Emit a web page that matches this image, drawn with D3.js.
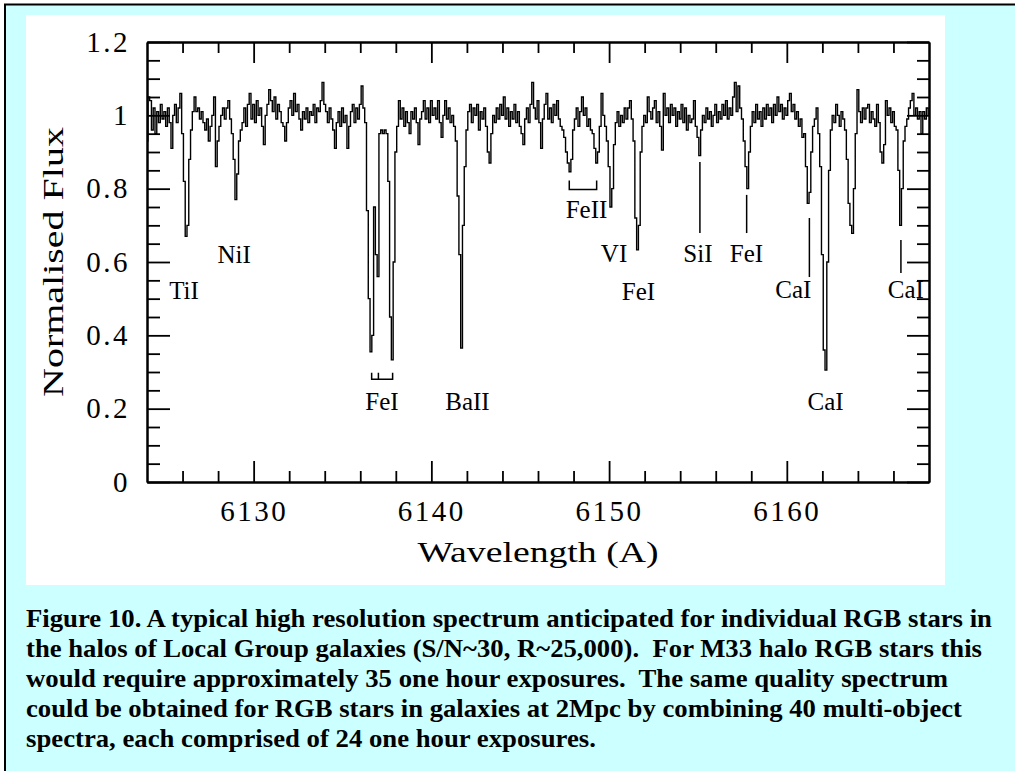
<!DOCTYPE html>
<html>
<head>
<meta charset="utf-8">
<script src="https://cdn.jsdelivr.net/npm/d3@7"></script>
<style>
  html, body { margin: 0; padding: 0; background: #fff; }
  #chart { width: 1015px; height: 771px; overflow: hidden; }
  text { font-family: "Liberation Serif", "Times New Roman", serif; }
</style>
</head>
<body>
<div id="chart"></div>
<script>
// normalised flux, one value every 0.1 A from 6124.0 A
const waveStart = 6124.0;
const waveStep = 0.1;
const flux = [
  0.93, 1.05, 1.04, 0.96, 1.02, 0.95, 1.01, 0.98, 1.03, 0.99,
  1.01, 0.97, 1.02, 0.98, 0.91, 1.00, 1.03, 0.98, 1.02, 1.06,
  0.95, 0.82, 0.67, 0.70, 0.88, 0.96, 1.01, 1.05, 1.01, 1.02,
  0.99, 1.01, 0.98, 0.96, 0.99, 0.93, 0.97, 1.00, 1.05, 0.86,
  0.93, 0.97, 1.00, 1.02, 0.99, 1.02, 1.04, 0.99, 0.95, 0.88,
  0.77, 0.84, 0.93, 0.96, 0.98, 1.02, 0.97, 1.03, 1.06, 0.99,
  1.03, 0.98, 1.04, 1.00, 1.02, 0.97, 0.92, 1.00, 1.03, 1.07,
  1.04, 1.01, 1.05, 0.99, 1.03, 1.01, 0.98, 0.97, 0.93, 0.98,
  1.02, 1.04, 1.00, 1.06, 1.01, 1.03, 0.99, 0.96, 1.01, 0.99,
  1.02, 0.98, 1.01, 1.00, 1.03, 0.98, 1.02, 1.01, 1.04, 1.09,
  1.03, 1.01, 0.98, 1.02, 0.99, 0.96, 0.91, 0.98, 1.01, 0.97,
  1.02, 0.98, 1.00, 0.91, 0.97, 1.01, 1.03, 0.98, 1.02, 0.99,
  1.03, 1.08, 1.02, 0.98, 0.74, 0.50, 0.355, 0.40, 0.75, 0.62,
  0.56, 0.95, 0.96, 0.95, 0.96, 0.95, 0.82, 0.45, 0.333, 0.60,
  0.90, 0.97, 1.04, 0.99, 1.02, 0.97, 1.01, 0.98, 0.95, 1.01,
  0.99, 1.02, 0.98, 0.92, 0.99, 1.01, 1.04, 0.99, 1.02, 0.98,
  1.04, 1.00, 1.02, 0.99, 1.04, 0.98, 0.94, 1.00, 1.04, 0.99,
  1.02, 0.98, 1.00, 0.97, 0.93, 0.78, 0.62, 0.365, 0.70, 0.86,
  0.96, 1.01, 1.03, 0.98, 1.02, 1.00, 1.03, 0.96, 1.01, 0.99,
  1.02, 0.97, 0.90, 0.87, 0.95, 1.00, 0.98, 1.02, 0.99, 1.03,
  1.00, 1.05, 0.99, 1.02, 0.97, 1.01, 0.99, 1.03, 0.98, 1.01,
  0.97, 0.95, 0.92, 0.99, 1.02, 0.98, 1.03, 1.09, 1.02, 0.99,
  1.04, 0.98, 0.91, 0.99, 1.03, 1.06, 0.99, 1.02, 0.98, 1.03,
  1.00, 1.04, 0.99, 0.97, 0.96, 0.94, 0.90, 0.87, 0.846, 0.88,
  0.96, 0.99, 1.02, 0.97, 1.01, 1.05, 1.00, 1.02, 0.97, 0.99,
  0.96, 0.95, 0.91, 0.87, 0.90, 0.97, 1.06, 1.00, 0.97, 0.93,
  0.86, 0.75, 0.80, 0.92, 0.98, 1.01, 0.97, 1.00, 0.98, 1.02,
  0.99, 1.02, 1.04, 0.99, 0.93, 0.72, 0.633, 0.70, 0.90, 0.97,
  1.00, 0.98, 1.05, 1.01, 0.99, 1.02, 1.04, 0.98, 1.01, 0.97,
  0.905, 1.06, 1.00, 1.02, 0.98, 1.03, 1.00, 1.02, 0.97, 1.01,
  0.99, 1.03, 0.98, 1.02, 0.96, 1.00, 0.98, 0.99, 1.04, 0.97,
  0.94, 0.89, 0.96, 1.00, 0.98, 1.02, 0.99, 1.01, 0.97, 1.00,
  1.03, 0.98, 1.01, 0.99, 1.03, 1.00, 1.04, 0.99, 1.02, 1.00,
  1.05, 1.09, 1.01, 1.08, 1.02, 0.99, 0.93, 0.86, 0.80, 0.90,
  0.97, 1.01, 0.98, 1.03, 0.99, 1.01, 0.97, 1.02, 0.99, 1.03,
  1.00, 1.02, 0.98, 1.03, 1.00, 1.05, 1.01, 1.03, 0.99, 1.02,
  1.00, 1.04, 1.06, 1.01, 1.03, 0.99, 1.01, 0.97, 0.99, 0.94,
  0.95, 0.86, 0.76, 0.79, 0.90, 0.97, 0.99, 1.02, 0.95, 0.86,
  0.62, 0.36, 0.305, 0.60, 0.85, 0.96, 1.00, 0.98, 1.03, 1.00,
  0.97, 1.01, 0.99, 0.96, 0.88, 0.76, 0.70, 0.678, 0.80, 0.95,
  1.07, 1.01, 0.98, 1.02, 0.99, 1.02, 1.03, 0.98, 1.01, 0.99,
  0.97, 1.03, 0.98, 0.90, 0.87, 0.92, 1.04, 1.00, 1.02, 0.98,
  1.01, 0.97, 0.96, 0.85, 0.70, 0.80, 0.93, 0.97, 0.99, 1.02,
  1.04, 1.06, 1.00, 1.02, 0.99, 1.01, 0.95, 1.01, 0.99, 1.02,
  1.00
];

const xMajorTicks = [6130, 6140, 6150, 6160];
const xMinorTicks = [6126, 6128, 6132, 6134, 6136, 6138, 6142, 6144, 6146, 6148,
                     6152, 6154, 6156, 6158, 6162, 6164, 6166];
const yMajorTicks = [0, 0.2, 0.4, 0.6, 0.8, 1, 1.2];
const yMinorTicks = [0.05, 0.1, 0.15, 0.25, 0.3, 0.35, 0.45, 0.5, 0.55, 0.65, 0.7, 0.75,
                     0.85, 0.9, 0.95, 1.05, 1.1, 1.15];

// line identifications (label centre wavelength, label baseline flux)
const lineNames = ["TiI", "NiI", "FeI", "BaII", "FeII", "VI", "FeI", "SiI", "FeI", "CaI", "CaI", "CaI"];
const lineLabelWave = [6126.08, 6128.9, 6137.22, 6142.03, 6148.73, 6150.28, 6151.65, 6155.0, 6157.73, 6160.37, 6162.18, 6166.7];
const lineLabelFlux = [0.499, 0.597, 0.196, 0.196, 0.72, 0.6, 0.496, 0.6, 0.6, 0.502, 0.196, 0.502];

// tick marks below lines
const markerWave = [6155.11, 6157.74, 6161.27, 6166.42];
const markerTop = [0.873, 0.783, 0.72, 0.66];
const markerBottom = [0.679, 0.679, 0.559, 0.57];

// brackets joining blended pairs
const bracketStart = [6136.64, 6147.76];
const bracketEnd = [6137.82, 6149.30];
const bracketTop = [0.298, 0.822];
const bracketBottom = [0.28, 0.798];
const bracketMid = [6137.02, null];

const captionLines = [
  "Figure 10. A typical high resolution spectrum anticipated for individual RGB stars in",
  "the halos of Local Group galaxies (S/N~30, R~25,000).  For M33 halo RGB stars this",
  "would require approximately 35 one hour exposures.  The same quality spectrum",
  "could be obtained for RGB stars in galaxies at 2Mpc by combining 40 multi-object",
  "spectra, each comprised of 24 one hour exposures."
];
const captionWidths = [966, 956, 922, 936, null];

const width = 1015;
const height = 771;
const plot = { left: 147, top: 42, right: 929, bottom: 482 };

const svg = d3.select("#chart")
    .append("svg")
    .attr("width", width)
    .attr("height", height);

// page background: cyan box with black frame, white figure panel
svg.append("rect")
    .attr("x", 5).attr("y", 4.5)
    .attr("width", 1200).attr("height", 900)
    .attr("fill", "#ccffff")
    .attr("stroke", "#000")
    .attr("stroke-width", 2);

svg.append("rect")
    .attr("x", 26).attr("y", 15)
    .attr("width", 919).attr("height", 570)
    .attr("fill", "#fff");

const xScale = d3.scaleLinear()
    .domain([6124, 6168])
    .range([plot.left, plot.right]);

const yScale = d3.scaleLinear()
    .domain([0, 1.2])
    .range([plot.bottom, plot.top]);

function styleAxis(g) {
    g.select(".domain").attr("stroke-width", 2).attr("stroke", "#000");
    g.selectAll(".tick line").attr("stroke-width", 1.8).attr("stroke", "#000");
}

// minor ticks on all four sides
svg.append("g").attr("transform", `translate(0, ${plot.bottom})`)
    .call(d3.axisBottom(xScale).tickValues(xMinorTicks).tickSize(-11).tickSizeOuter(0).tickFormat(""))
    .call(styleAxis);
svg.append("g").attr("transform", `translate(0, ${plot.top})`)
    .call(d3.axisTop(xScale).tickValues(xMinorTicks).tickSize(-11).tickSizeOuter(0).tickFormat(""))
    .call(styleAxis);
svg.append("g").attr("transform", `translate(${plot.left}, 0)`)
    .call(d3.axisLeft(yScale).tickValues(yMinorTicks).tickSize(-13).tickSizeOuter(0).tickFormat(""))
    .call(styleAxis);
svg.append("g").attr("transform", `translate(${plot.right}, 0)`)
    .call(d3.axisRight(yScale).tickValues(yMinorTicks).tickSize(-12).tickSizeOuter(0).tickFormat(""))
    .call(styleAxis);

// major ticks
const xAxis = svg.append("g").attr("transform", `translate(0, ${plot.bottom})`)
    .call(d3.axisBottom(xScale).tickValues(xMajorTicks).tickSize(-21).tickSizeOuter(0).tickFormat(d3.format("d")))
    .call(styleAxis);
xAxis.selectAll("text")
    .attr("y", 39).attr("dy", 0)
    .attr("font-size", 29)
    .attr("letter-spacing", 2.5)
    .attr("font-family", "Liberation Serif")
    .attr("fill", "#000");

svg.append("g").attr("transform", `translate(0, ${plot.top})`)
    .call(d3.axisTop(xScale).tickValues(xMajorTicks).tickSize(-21).tickSizeOuter(0).tickFormat(""))
    .call(styleAxis);

const yAxis = svg.append("g").attr("transform", `translate(${plot.left}, 0)`)
    .call(d3.axisLeft(yScale).tickValues(yMajorTicks).tickSize(-23).tickPadding(17)
        .tickSizeOuter(0).tickFormat((d, i) => ["0", "0.2", "0.4", "0.6", "0.8", "1", "1.2"][i]))
    .call(styleAxis);
yAxis.selectAll("text")
    .attr("font-size", 29)
    .attr("letter-spacing", 2.5)
    .attr("font-family", "Liberation Serif")
    .attr("fill", "#000");

svg.append("g").attr("transform", `translate(${plot.right}, 0)`)
    .call(d3.axisRight(yScale).tickValues(yMajorTicks).tickSize(-22).tickSizeOuter(0).tickFormat(""))
    .call(styleAxis);

// spectrum, drawn as a histogram
const line = d3.line()
    .x((d, i) => xScale(waveStart + i * waveStep))
    .y(d => yScale(d))
    .curve(d3.curveStep);

svg.append("path")
    .datum(flux)
    .attr("fill", "none")
    .attr("stroke", "#000")
    .attr("stroke-width", 1.4)
    .attr("d", line);

// marker lines
markerWave.forEach((w, i) => {
    svg.append("line")
        .attr("x1", xScale(w)).attr("x2", xScale(w))
        .attr("y1", yScale(markerTop[i])).attr("y2", yScale(markerBottom[i]))
        .attr("stroke", "#000").attr("stroke-width", 1.5);
});

// brackets
bracketStart.forEach((w, i) => {
    const x0 = xScale(w), x1 = xScale(bracketEnd[i]);
    const yt = yScale(bracketTop[i]), yb = yScale(bracketBottom[i]);
    svg.append("path")
        .attr("d", `M${x0},${yt}V${yb}H${x1}V${yt}`)
        .attr("fill", "none").attr("stroke", "#000").attr("stroke-width", 1.5);
    if (bracketMid[i] !== null) {
        const xm = xScale(bracketMid[i]);
        svg.append("line")
            .attr("x1", xm).attr("x2", xm).attr("y1", yt).attr("y2", yb)
            .attr("stroke", "#000").attr("stroke-width", 1.5);
    }
});

// line labels
svg.selectAll("text.linelabel")
    .data(lineNames)
    .enter()
    .append("text")
    .attr("class", "linelabel")
    .attr("x", (d, i) => xScale(lineLabelWave[i]))
    .attr("y", (d, i) => yScale(lineLabelFlux[i]))
    .attr("text-anchor", "middle")
    .attr("font-size", 25)
    .attr("fill", "#000")
    .text(d => d);

// axis titles
svg.append("text")
    .attr("x", (plot.left + plot.right) / 2)
    .attr("y", 562)
    .attr("text-anchor", "middle")
    .attr("font-size", 29)
    .attr("textLength", 241)
    .attr("lengthAdjust", "spacingAndGlyphs")
    .text("Wavelength (A)");

svg.append("text")
    .attr("transform", `translate(63, ${(plot.top + plot.bottom) / 2}) rotate(-90)`)
    .attr("text-anchor", "middle")
    .attr("font-size", 29)
    .attr("textLength", 270)
    .attr("lengthAdjust", "spacingAndGlyphs")
    .text("Normalised Flux");

// caption
const caption = svg.append("g");
const capTexts = caption.selectAll("text")
    .data(captionLines)
    .enter()
    .append("text")
    .attr("x", 26)
    .attr("y", (d, i) => 627 + i * 30)
    .attr("font-size", 25)
    .attr("font-weight", "bold")
    .attr("fill", "#000")
    .style("white-space", "pre")
    .text(d => d);

// fit line widths to the original, keeping the same squeeze for the last line
const natural0 = capTexts.nodes()[0].getComputedTextLength();
const squeeze = captionWidths[0] / natural0;
capTexts.each(function (d, i) {
    const w = captionWidths[i] !== null ? captionWidths[i] : this.getComputedTextLength() * squeeze;
    d3.select(this).attr("textLength", w).attr("lengthAdjust", "spacingAndGlyphs");
});
</script>
</body>
</html>
